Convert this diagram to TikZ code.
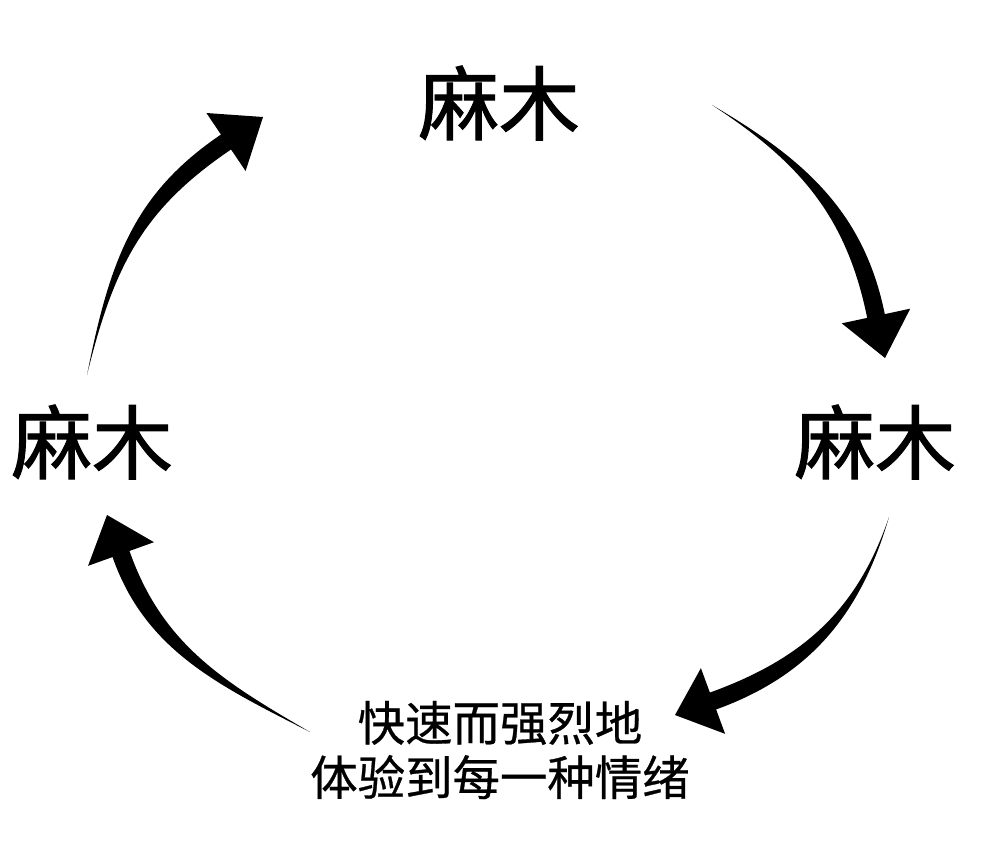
\documentclass[tikz,border=0pt]{standalone}
\usepackage{fontspec}
\setmainfont{Noto Sans CJK SC}
\newfontfamily\cjkheavy[FakeBold=1.2]{Noto Sans CJK SC}
\newfontfamily\cjkmid[FakeBold=0.6]{Noto Sans CJK SC}
\usetikzlibrary{calc}
\tikzset{
numb/.style={font=\cjkheavy\fontsize{46}{50}\selectfont, inner sep=0pt}, % the three big words
feeling/.style={font=\cjkmid\fontsize{27}{31}\selectfont, align=center, inner sep=0pt}, % text at the bottom
}
% tapered arrow: tail, control 1, control 2, head base, tip
\newcommand{\sweeparrow}[5]{%
\fill (#1) .. controls ($(#2)!0.06cm!90:(#4)$) and ($(#3)!0.18cm!90:(#4)$) .. ($(#4)!0.18cm!90:(#5)$)
	-- ($(#4)!0.7cm!90:(#5)$) -- (#5) -- ($(#4)!0.7cm!-90:(#5)$) -- ($(#4)!0.18cm!-90:(#5)$)
	.. controls ($(#3)!0.18cm!-90:(#4)$) and ($(#2)!0.06cm!-90:(#4)$) .. (#1) -- cycle;}

\begin{document}
\begin{tikzpicture}[x=0.02cm, y=-0.02cm]
		\useasboundingbox (0,0) rectangle (1000,853);

		\node[numb] (numbtop) at (499,103) {麻木};
		\node[numb] (numbright) at (875,442) {麻木};
		\node[numb] (numbleft) at (92,442) {麻木};
		\node[feeling] (feel) at (500,750) {快速而强烈地\\体验到每一种情绪};

		\coordinate (t1) at (712,105);
		\coordinate (a1) at (801,160);
		\coordinate (b1) at (855,213);
		\coordinate (h1) at (876,316);
		\coordinate (p1) at (885,358);

		\coordinate (t2) at (889,517);
		\coordinate (a2) at (859,612);
		\coordinate (b2) at (807,667);
		\coordinate (h2) at (713,701);
		\coordinate (p2) at (675,715);

		\coordinate (t3) at (310,732);
		\coordinate (a3) at (222,684);
		\coordinate (b3) at (154,648);
		\coordinate (h3) at (121,554);
		\coordinate (p3) at (107,515);

		\coordinate (t4) at (87,375);
		\coordinate (a4) at (112,262);
		\coordinate (b4) at (139,201);
		\coordinate (h4) at (226,142);
		\coordinate (p4) at (263,117);

		\sweeparrow{t1}{a1}{b1}{h1}{p1}
		\sweeparrow{t2}{a2}{b2}{h2}{p2}
		\sweeparrow{t3}{a3}{b3}{h3}{p3}
		\sweeparrow{t4}{a4}{b4}{h4}{p4}
	\end{tikzpicture}
\end{document}
